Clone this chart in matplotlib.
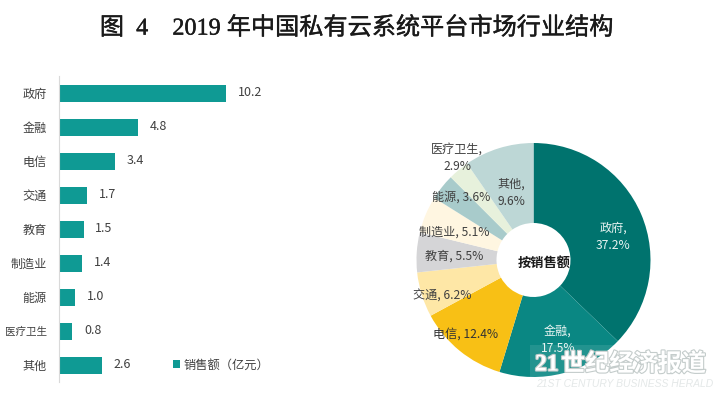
# 2019 private cloud platform market by industry
import matplotlib
matplotlib.use('Agg')
import matplotlib.pyplot as plt
import matplotlib.patheffects as pe

plt.rcParams['font.family'] = ['Noto Sans CJK SC', 'DejaVu Sans']

W, H = 723, 400

title = '图  4    2019 年中国私有云系统平台市场行业结构'
industries = ['政府', '金融', '电信', '交通', '教育', '制造业', '能源', '医疗卫生', '其他']
sales = [10.2, 4.8, 3.4, 1.7, 1.5, 1.4, 1.0, 0.8, 2.6]
shares = [37.2, 17.5, 12.4, 6.2, 5.5, 5.1, 3.6, 2.9, 9.6]
pie_colors = ['#00736e', '#0a8783', '#f8c015', '#fee7a6', '#d5d5d7',
              '#fff6e1', '#a8cbcb', '#e7f1dc', '#bdd7d6']
bar_color = '#0f9a94'
text_color = '#404040'

# label text position on the picture, pixels
pie_labels = ['政府,\n37.2%', '金融,\n17.5%', '电信, 12.4%', '交通, 6.2%', '教育, 5.5%',
              '制造业, 5.1%', '能源, 3.6%', '医疗卫生,\n2.9%', '其他,\n9.6%']
label_x = [613, 558, 466, 442, 454, 454, 461, 457, 511]
label_y = [237, 340, 334, 296, 256, 232, 197, 158, 193]
label_colors = ['#e8f4f2', '#e8f4f2', '#333333', '#404040', '#404040',
                '#404040', '#404040', '#404040', '#404040']


def px_text(x, y, s, **kw):
    kw.setdefault('ha', 'center')
    kw.setdefault('va', 'center')
    return fig.text(x / W, 1 - y / H, s, **kw)


def px_axes(x0, y0, x1, y1):
    return fig.add_axes([x0 / W, 1 - y1 / H, (x1 - x0) / W, (y1 - y0) / H])


fig = plt.figure(figsize=(W / 100, H / 100), dpi=100)

t = px_text(356, 28, title, fontsize=17.4, color='#1a1a1a',
            family=['Liberation Serif', 'Noto Sans CJK SC'])
t.set_path_effects([pe.withStroke(linewidth=0.3, foreground='#1a1a1a')])

# bars
ax = px_axes(59, 76, 59 + 16.4 * 12, 382)
pos = list(range(len(industries)))
bars = ax.barh(pos, sales, height=0.5, color=bar_color, label='销售额（亿元）')
ax.set_ylim(len(industries) - 0.5, -0.5)
ax.set_xlim(0, 12)
ax.set_yticks(pos, industries, fontsize=8.7, color=text_color)
ax.tick_params(axis='y', length=0, pad=9)
# longest label has to stay inside the left edge
ax.get_yticklabels()[industries.index('医疗卫生')].set_fontsize(7.6)
ax.xaxis.set_visible(False)
for s in ['top', 'right', 'bottom']:
    ax.spines[s].set_visible(False)
ax.spines['left'].set_color('#d9d9d9')
ax.bar_label(bars, fmt='%.1f', padding=8.5, fontsize=9, color=text_color)
ax.legend(loc='center left', bbox_to_anchor=(173 / W, 1 - 365 / H),
          bbox_transform=fig.transFigure, frameon=False, fontsize=8.8,
          labelcolor=text_color, handlelength=0.6, handleheight=0.6,
          handletextpad=0.3, borderpad=0, borderaxespad=0)

# donut
ax2 = px_axes(416.5, 143, 650.5, 377)
ax2.pie(shares, colors=pie_colors, startangle=90, counterclock=False, radius=1,
        wedgeprops=dict(width=1 - 37 / 117, linewidth=0))
ax2.set_xlim(-1, 1)
ax2.set_ylim(-1, 1)

for x, y, s, c in zip(label_x, label_y, pie_labels, label_colors):
    px_text(x, y, s, fontsize=8.7, color=c, linespacing=1.45)
px_text(544, 263, '按销售额', fontsize=9.5, color='#1a1a1a', fontweight='bold')

# watermark
fig.patches.append(plt.Rectangle((530 / W, 1 - 392 / H), 182 / W, 47 / H, color='white',
                                 alpha=0.1, lw=0, transform=fig.transFigure))
halo = [pe.withStroke(linewidth=1.6, foreground='#c4cccb')]
px_text(535, 365, '21', fontsize=17, color='#ffffff', ha='left', fontweight='bold',
        family=['Liberation Serif'], path_effects=halo)
px_text(561, 364, '世纪经济报道', fontsize=17.4, color='#ffffff', ha='left',
        fontweight='bold', path_effects=halo)
px_text(536, 384, '21ST CENTURY BUSINESS HERALD', fontsize=7.5, color='#e4e8e8',
        ha='left', style='italic', family=['Liberation Sans'])

fig.savefig('out.png', dpi=100)
